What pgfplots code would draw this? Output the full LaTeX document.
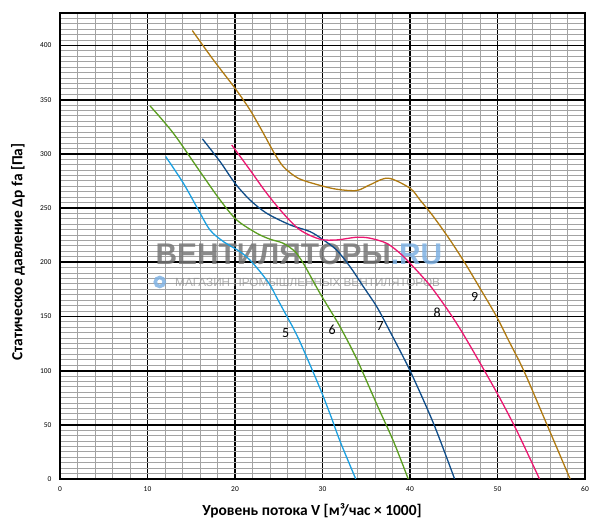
\documentclass[border=0pt]{standalone}
\usepackage{pgfplots}
\pgfplotsset{compat=1.18}
\usepackage{fontspec}
\setmainfont{Carlito}
\newfontfamily\wmfont{Liberation Sans}
\definecolor{c5}{HTML}{1BA0E1}
\definecolor{c6}{HTML}{5A9E1F}
\definecolor{c7}{HTML}{0E4C89}
\definecolor{c8}{HTML}{EC1670}
\definecolor{c9}{HTML}{B07A10}
\definecolor{wmgray}{HTML}{777777}
\definecolor{wmgray2}{HTML}{8C8C8C}
\definecolor{wmblue}{HTML}{7FB2E3}
\begin{document}
\begin{tikzpicture}
\useasboundingbox (0,0) rectangle (600bp,528bp);
\begin{axis}[
  at={(60bp,49bp)}, anchor=south west,
  scale only axis, width=525bp, height=466bp,
  xmin=0, xmax=60, ymin=0, ymax=430,
  xtick={0,10,20,30,40,50,60}, ytick={0,50,100,150,200,250,300,350,400},
  minor xtick={2,4,6,8,12,14,16,18,22,24,26,28,32,34,36,38,42,44,46,48,52,54,56,58},
  minor ytick={5,10,15,20,25,30,35,40,45,55,60,65,70,75,80,85,90,95,
    105,110,115,120,125,130,135,140,145,155,160,165,170,175,180,185,190,195,
    205,210,215,220,225,230,235,240,245,255,260,265,270,275,280,285,290,295,
    305,310,315,320,325,330,335,340,345,355,360,365,370,375,380,385,390,395,
    405,410,415,420,425},
  major tick length=0pt, minor tick length=0pt,
  grid=both,
  major grid style={black, line width=1.8bp},
  minor grid style={color=black!36, line width=1bp},
  axis line style={black, line width=1.8bp},
  /pgf/number format/assume math mode=true,
  tick label style={font=\fontsize{7.5}{9}\selectfont},
  yticklabel style={xshift=-5bp},
  xticklabel style={yshift=-4bp},
  xlabel={Уровень потока V [м³/час × 1000]},
  ylabel={Статическое давление Δp fa [Па]},
  label style={font=\fontsize{15.5}{18}\selectfont\bfseries},
  xlabel style={at={(axis description cs:0.48,-0.069)}, anchor=center},
  ylabel style={at={(axis description cs:-0.08,0.487)}, anchor=center, rotate=0},
  every axis plot/.append style={line width=1.3bp},
]
% watermark
\node[font=\wmfont\fontsize{30}{32}\selectfont\bfseries, text opacity=0.85, inner sep=0pt] at (axis cs:27.3,207.7)
  {\textcolor{wmgray}{ВЕНТИЛЯТОРЫ}\textcolor{wmblue}{.RU}};
\node[font=\wmfont\fontsize{11.8}{13}\selectfont, text=wmgray2, text opacity=0.7, inner sep=0pt] at (axis cs:28.3,181.5)
  {МАГАЗИН ПРОМЫШЛЕННЫХ ВЕНТИЛЯТОРОВ};
\draw[wmblue, opacity=0.85, line width=3.5bp] (axis cs:11.4,181.8) circle[radius=4.5bp];

\addplot[c5, smooth] coordinates {
(12.08,297.5) (14.1,272.9) (15.81,248.3) (17.14,229.8) (18.67,219.1) (20.57,209.8) (21.71,202) (22.9,191) (24,179.1) (24.76,167.5) (25.9,150.5) (26.67,139.1) (27.4,127) (28.7,103) (29.9,80) (31,57) (32,35) (33.8,0)};
\addplot[c6, smooth] coordinates {
(10.29,344.3) (12.95,319.1) (16,283.7) (18.29,257.5) (20.19,239.1) (22.48,226.8) (24,221.3) (25.52,217.5) (26.86,209.8) (27.81,199) (28.76,185.2) (29.71,171.4) (30.86,156) (32,140.6) (33.9,111) (36.2,69) (38.1,35) (39.8,0)};
\addplot[c7, smooth] coordinates {
(16.27,313.9) (18.29,292.9) (20,272.9) (21.71,257.5) (23.62,245.2) (26.29,234.5) (28.57,228.3) (30.1,220.6) (31.6,211.4) (33.14,196) (34.67,177.5) (36.2,159) (37.52,139.1) (40,100) (42.7,51) (45.1,0)};
\addplot[c8, smooth] coordinates {
(19.62,308.3) (21.71,285.2) (23.62,263.7) (25.52,245) (27.43,229.8) (29.71,221.3) (31.62,220.6) (33.9,223.1) (35.43,222.2) (37.33,217.5) (38.86,208.3) (40,199.1) (42.29,178.5) (44.57,152.9) (46.48,128.3) (49.9,80) (52.2,44.6) (54.8,0)};
\addplot[c9, smooth] coordinates {
(15.12,413.8) (17.52,386.8) (20,360.6) (21.71,340.6) (23.24,319.1) (24.38,302.2) (25.52,288.3) (27.2,277.6) (29.5,271.4) (31.6,267.4) (33.9,266.2) (35.4,271.4) (37.5,277.6) (40,268.3) (41.14,257.5) (42.67,242.2) (44.57,220.6) (46.29,199.1) (48,176) (49.9,149.8) (51.24,128.3) (53,100) (55.66,50) (58.3,0)};

\node[font=\fontsize{14}{16}\selectfont] at (axis cs:25.8,135) {5};
\node[font=\fontsize{14}{16}\selectfont] at (axis cs:31.1,138) {6};
\node[font=\fontsize{14}{16}\selectfont] at (axis cs:36.6,141) {7};
\node[font=\fontsize{14}{16}\selectfont] at (axis cs:43.1,153) {8};
\node[font=\fontsize{14}{16}\selectfont] at (axis cs:47.4,168) {9};
\end{axis}
\end{tikzpicture}
\end{document}
